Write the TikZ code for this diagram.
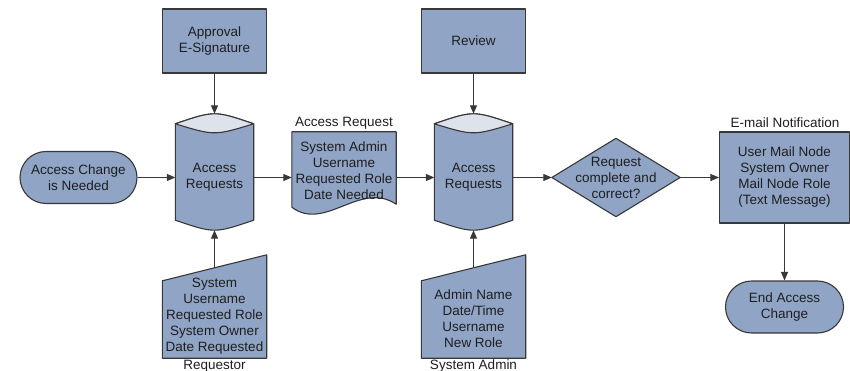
\documentclass[tikz,border=0pt]{standalone}
\usepackage{fontspec}
\setmainfont{Liberation Sans}
\usetikzlibrary{arrows.meta,calc,backgrounds}
\definecolor{boxfill}{HTML}{90A4C6}
\definecolor{lensfill}{HTML}{DDE2EB}
\definecolor{edge}{HTML}{383838}
\definecolor{ink}{HTML}{1E1E1E}
\begin{document}
\begin{tikzpicture}[x=1pt,y=-1pt,
  font=\fontsize{13.5}{16}\selectfont,
  shp/.style={draw=edge, line width=1.1pt, fill=boxfill, line join=round},
  txt/.style={text=ink, align=center, inner sep=0pt},
  procbox/.style={txt, shp, rectangle, minimum width=104pt, minimum height=64pt},
  termbox/.style={txt, shp, rectangle, rounded corners=26pt, minimum width=117pt, minimum height=52pt},
  holder/.style={txt, rectangle, draw=none},
  caption/.style={text=ink, inner sep=0pt},
  conn/.style={draw=edge, line width=1pt, -{Triangle[length=8.5pt,width=7pt]}}
]
\useasboundingbox (0,0) rectangle (850,371);

% nodes
\node[termbox] (start) at (78.5,177.5) {Access Change\\is Needed};
\node[procbox] (appr) at (214.5,41) {Approval\\E-Signature};
\node[holder, minimum width=78pt, minimum height=116pt] (c1) at (214.5,172) {};
\node[txt] (c1t) at (214.5,177.5) {Access\\Requests};
\node[holder, minimum width=104pt, minimum height=103pt] (mi1) at (214.5,306.5) {};
\node[txt] (mi1t) at (214.5,316.5) {System\\Username\\Requested Role\\System Owner\\Date Requested};
\node[caption] (lreq) at (214.5,366) {Requestor};

\node[holder, minimum width=104pt, minimum height=78pt] (doc) at (344,171) {System Admin\\Username\\Requested Role\\Date Needed};
\node[caption] (ldoc) at (344,123) {Access Request};

\node[procbox] (rev) at (473.5,41) {Review};
\node[holder, minimum width=78pt, minimum height=116pt] (c2) at (473.5,172) {};
\node[txt] (c2t) at (473.5,177.5) {Access\\Requests};
\node[holder, minimum width=104pt, minimum height=103pt] (mi2) at (473.5,306.5) {};
\node[txt] (mi2t) at (473.5,318.5) {Admin Name\\Date/Time\\Username\\New Role};
\node[caption] (lsys) at (473.5,366) {System Admin};

\node[holder, minimum width=128pt, minimum height=78pt] (dia) at (616,177.5) {Request\\complete and\\correct?};
\node[holder, shp, minimum width=130pt, minimum height=91pt] (mail) at (784.5,177.5) {User Mail Node\\System Owner\\Mail Node Role\\(Text Message)};
\node[caption] (lmail) at (785,123) {E-mail Notification};
\node[termbox, minimum width=118pt] (fin) at (784.5,307) {End Access\\Change};

% custom shapes
\begin{scope}[on background layer]
  \foreach \c in {c1,c2}{
    \path[shp] ($(\c.north west)+(0,10)$) -- ($(\c.south west)+(0,-10)$)
      .. controls ($(\c.south)+(0,3.3)$) .. ($(\c.south east)+(0,-10)$)
      -- ($(\c.north east)+(0,10)$)
      .. controls ($(\c.north)+(0,-3.3)$) .. ($(\c.north west)+(0,10)$) -- cycle;
    \path[shp, fill=lensfill] ($(\c.north west)+(0,10)$)
      .. controls ($(\c.north)+(0,-3.3)$) .. ($(\c.north east)+(0,10)$)
      .. controls ($(\c.north)+(0,22)$) .. ($(\c.north west)+(0,10)$) -- cycle;
  }
  \foreach \m in {mi1,mi2}{
    \path[shp] (\m.south west) -- ($(\m.north west)+(0,26)$) -- (\m.north east) -- (\m.south east) -- cycle;
  }
  \path[shp] (doc.north west) -- ($(doc.south west)+(0,-3)$)
    .. controls ($(doc.south west)+(33,22)$) and ($(doc.south east)+(-36,-30)$) .. ($(doc.south east)+(0,-6)$)
    -- (doc.north east) -- cycle;
  \path[shp] (dia.west) -- (dia.north) -- (dia.east) -- (dia.south) -- cycle;
\end{scope}

% connectors
\draw[conn] (start.east) -- (start.east -| c1.west);
\draw[conn] (appr.south) -- (c1.north);
\draw[conn] ($(mi1.north)+(0,13)$) -- (c1.south);
\draw[conn] (start.east -| c1.east) -- (start.east -| doc.west);
\draw[conn] (start.east -| doc.east) -- (start.east -| c2.west);
\draw[conn] (rev.south) -- (c2.north);
\draw[conn] ($(mi2.north)+(0,13)$) -- (c2.south);
\draw[conn] (start.east -| c2.east) -- (dia.west);
\draw[conn] (dia.east) -- (mail.west);
\draw[conn] (mail.south) -- (fin.north);
\end{tikzpicture}
\end{document}
